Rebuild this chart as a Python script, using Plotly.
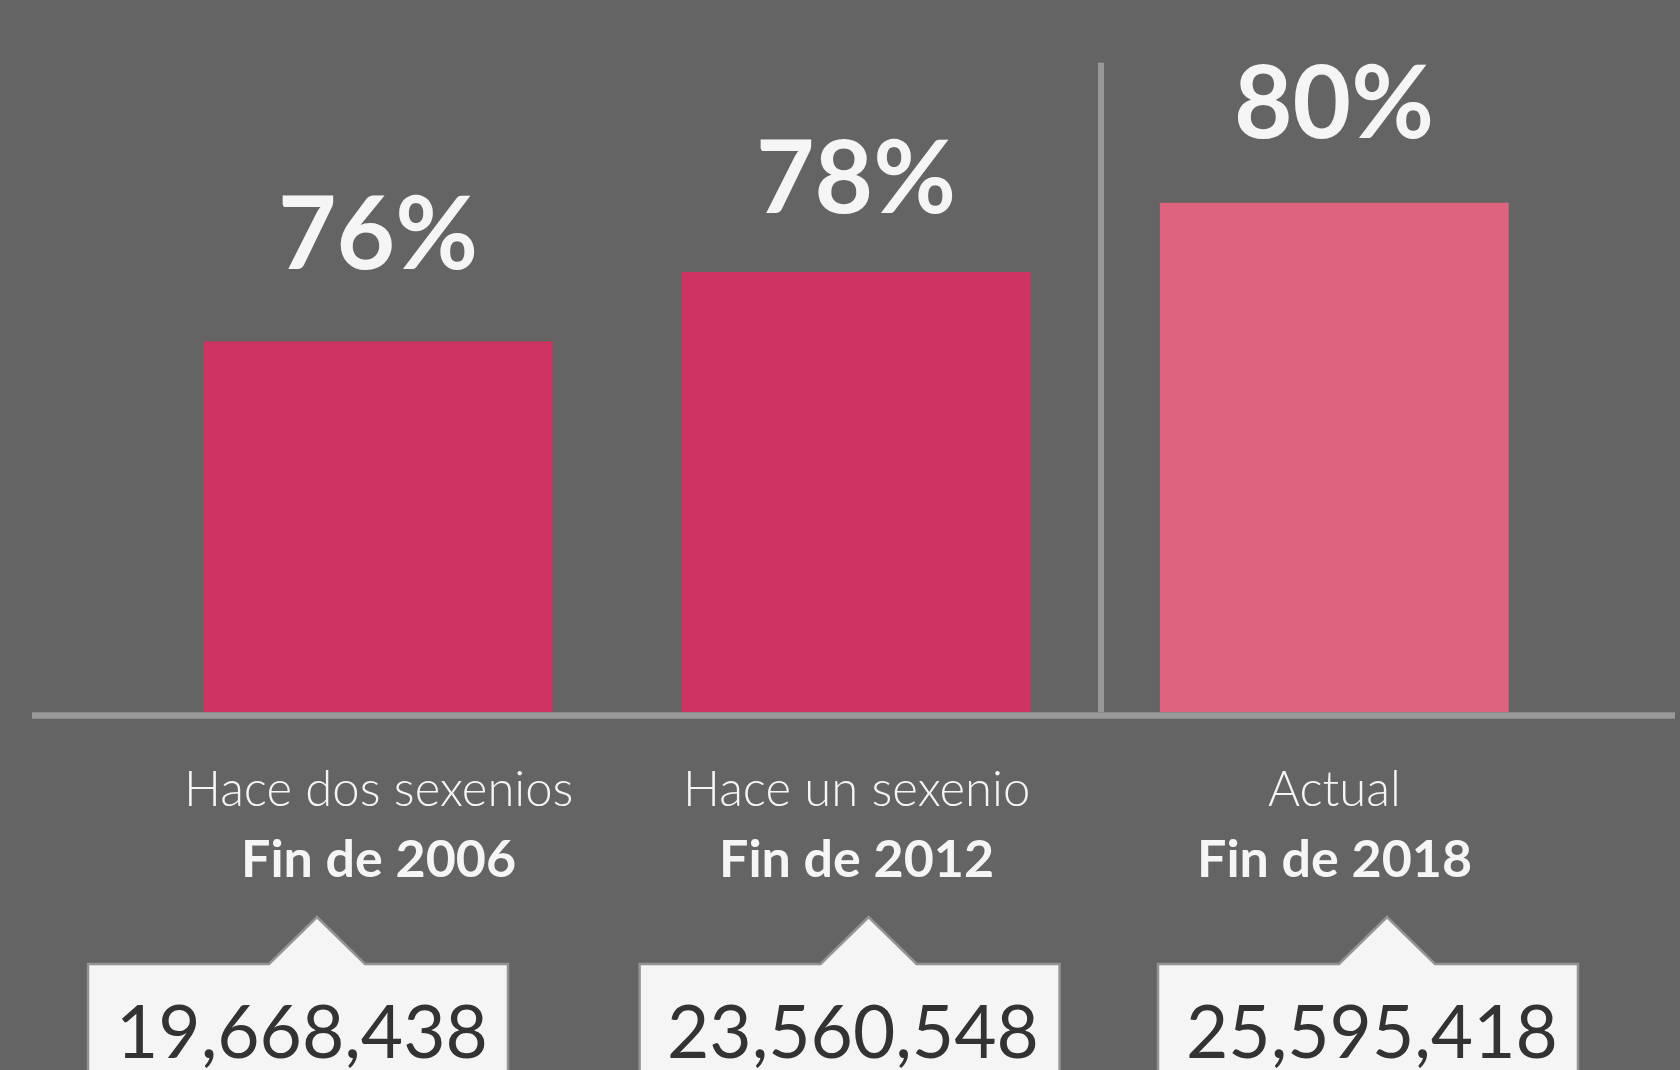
import plotly.graph_objects as go

# ---- data ----
periods = ["Hace dos sexenios", "Hace un sexenio", "Actual"]
years = ["Fin de 2006", "Fin de 2012", "Fin de 2018"]
pct = [76, 78, 80]
counts = [19668438, 23560548, 25595418]

# ---- styles / layout constants ----
W, H = 1680, 1070
BASE_PX = 712           # pixel row of the plot bottom (bar baseline)
BG = "#646464"
BAR_COLORS = ["#cf3362", "#cf3362", "#de637e"]
TXT = "#f5f5f5"
FONT = "Lato"

def py(px):   # pixel row -> paper y
    return (BASE_PX - px) / BASE_PX

def pxx(px):  # pixel column -> paper x
    return px / W

fig = go.Figure()
fig.add_trace(go.Bar(
    x=years, y=pct,
    marker=dict(color=BAR_COLORS, line=dict(width=0)),
    width=0.73,
    hoverinfo="skip",
))

annotations = []
# percentage labels above the bars (pixel offsets above bar top)
label_shift = [112, 98, 104]
for yr, v, s in zip(years, pct, label_shift):
    annotations.append(dict(
        x=yr, y=v, xref="x", yref="y", text=f"{v}%", showarrow=False,
        yanchor="middle", yshift=s,
        font=dict(family=FONT, size=101, color=TXT, weight=700),
    ))

# category labels (two lines)
for yr, p in zip(years, periods):
    annotations.append(dict(
        x=yr, y=py(787), xref="x", yref="paper", text=p, showarrow=False,
        yanchor="middle", font=dict(family=FONT, size=49, color=TXT, weight=300),
    ))
    annotations.append(dict(
        x=yr, y=py(857), xref="x", yref="paper", text=yr, showarrow=False,
        yanchor="middle", font=dict(family=FONT, size=52, color=TXT, weight=700),
    ))

# call-out boxes with counts
box_left = [88, 639.6, 1158]
box_w = 420
apex_dx = 229
half_base = 48
top_px, apex_px, bottom_px = 964, 917, 1085
shapes = []
for left, c in zip(box_left, counts):
    ax = left + apex_dx
    path = (f"M {pxx(left)} {py(bottom_px)} L {pxx(left)} {py(top_px)} "
            f"L {pxx(ax - half_base)} {py(top_px)} L {pxx(ax)} {py(apex_px)} "
            f"L {pxx(ax + half_base)} {py(top_px)} L {pxx(left + box_w)} {py(top_px)} "
            f"L {pxx(left + box_w)} {py(bottom_px)} Z")
    shapes.append(dict(type="path", path=path, xref="paper", yref="paper",
                       fillcolor="#f5f5f5", line=dict(color="#939393", width=2.5),
                       layer="above"))
    annotations.append(dict(
        x=pxx(left + 213.5), y=py(1030), xref="paper", yref="paper",
        text=f"{c:,}", showarrow=False, xanchor="center", yanchor="middle",
        font=dict(family=FONT, size=73, color="#333333", weight=400),
    ))

# baseline and separator
shapes.append(dict(type="line", xref="paper", yref="paper",
                   x0=pxx(32), x1=pxx(1675), y0=py(715.5), y1=py(715.5),
                   line=dict(color="#999999", width=6.5), layer="above"))
shapes.append(dict(type="line", xref="paper", yref="paper",
                   x0=pxx(1101), x1=pxx(1101), y0=py(62.7), y1=py(712),
                   line=dict(color="#999999", width=6), layer="above"))

# x: bar centres at 378.3, 856, 1334.3 px -> 478 px per category
x0 = -378.3 / 478.0
x1 = (W - 378.3) / 478.0
# y: ~34.7 px per percentage point, baseline at BASE_PX
ppu = 34.7
ymin = 78 - 439.9 / ppu
ymax = ymin + BASE_PX / ppu

fig.update_layout(
    width=W, height=H,
    margin=dict(l=0, r=0, t=0, b=H - BASE_PX, pad=0),
    paper_bgcolor=BG, plot_bgcolor=BG,
    showlegend=False,
    xaxis=dict(type="category", range=[x0, x1], visible=False, fixedrange=True),
    yaxis=dict(range=[ymin, ymax], visible=False, fixedrange=True),
    annotations=annotations, shapes=shapes,
    font=dict(family=FONT),
)

fig.write_html("out.html", config={"displayModeBar": False},
               post_script="document.body.style.margin='0';document.body.style.overflow='hidden';")
